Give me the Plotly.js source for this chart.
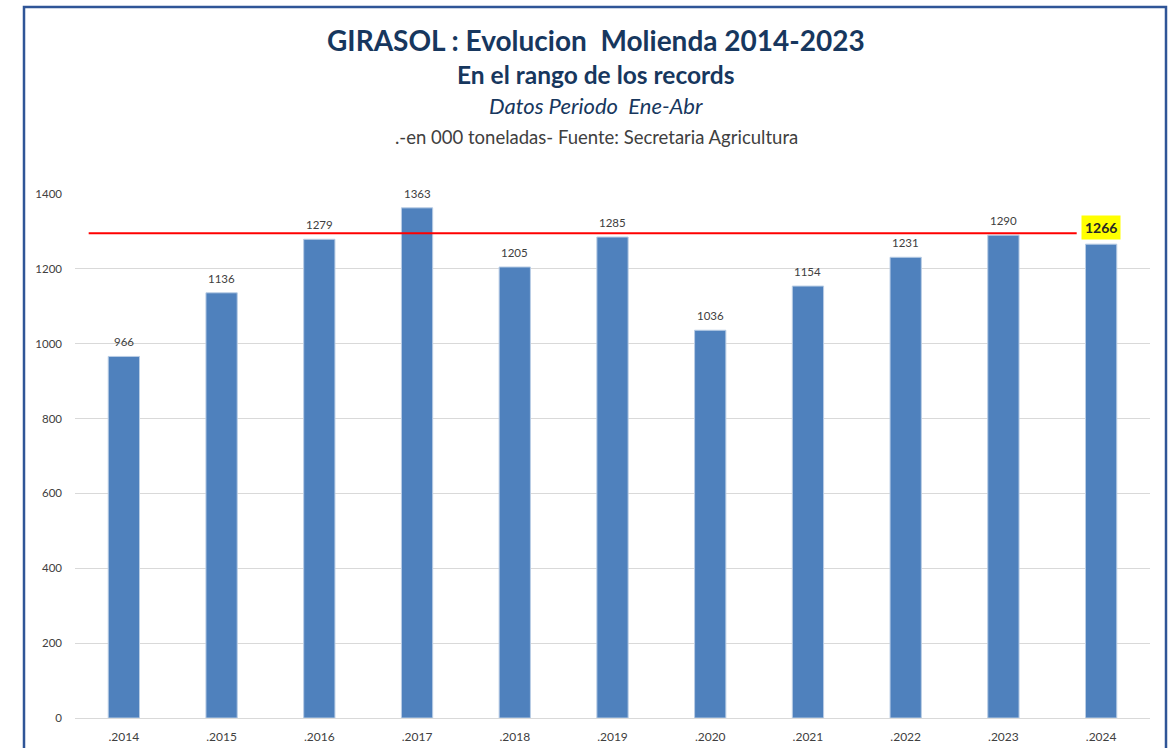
<!DOCTYPE html>
<html>
<head>
<meta charset="utf-8">
<script src="https://cdn.plot.ly/plotly-3.0.1.min.js"></script>
<style>html,body{margin:0;padding:0;background:#fff;}#chart{width:1168px;height:748px;}</style>
</head>
<body>
<div id="chart"></div>
<script>
const categories = [".2014", ".2015", ".2016", ".2017", ".2018", ".2019", ".2020", ".2021", ".2022", ".2023", ".2024"];
const values = [966, 1136, 1279, 1363, 1205, 1285, 1036, 1154, 1231, 1290, 1266];
const recordLevel = [1295];
const highlightIndex = [10];
const yTicks = [0, 200, 400, 600, 800, 1000, 1200, 1400];

const FONT = "Lato, 'Noto Sans', sans-serif";
const TXT = "#404040";
const NAVY = "#17375e";

const annotations = [];
values.forEach((v, i) => {
  const hl = highlightIndex.includes(i);
  annotations.push({
    x: i, y: v, xref: 'x', yref: 'y',
    text: hl ? '<b>' + v + '</b>' : String(v),
    showarrow: false, yanchor: 'bottom', yshift: hl ? 4 : 6,
    font: {family: FONT, size: hl ? 14 : 11.5, color: hl ? '#262626' : TXT},
    bgcolor: hl ? '#ffff00' : 'rgba(0,0,0,0)',
    borderpad: hl ? 3 : 1
  });
});

const titles = [
  {text: '<b>GIRASOL : Evolucion  Molienda 2014-2023</b>', y: 40, size: 28, color: NAVY},
  {text: '<b>En el rango de los records</b>', y: 74, size: 24.5, color: NAVY},
  {text: '<i>Datos Periodo  Ene-Abr</i>', y: 106, size: 22, color: NAVY},
  {text: '.-en 000 toneladas- Fuente: Secretaria Agricultura', y: 137, size: 18.5, color: TXT}
];
const plotTop = 194, plotBottom = 718;
titles.forEach(t => {
  annotations.push({
    xref: 'paper', yref: 'paper', x: (596 - 75) / 1075, y: (plotBottom - t.y) / (plotBottom - plotTop),
    xanchor: 'center', yanchor: 'middle', showarrow: false,
    text: t.text, font: {family: FONT, size: t.size, color: t.color}
  });
});

const data = [{
  type: 'bar', x: categories, y: values,
  marker: {color: '#4f81bd', line: {color: '#b9cde5', width: 1}},
  hoverinfo: 'x+y'
}];

const layout = {
  width: 1168, height: 748,
  margin: {l: 75, r: 18, t: 194, b: 30},
  paper_bgcolor: '#ffffff', plot_bgcolor: '#ffffff',
  showlegend: false,
  bargap: 0.68,
  font: {family: FONT, color: TXT},
  xaxis: {
    type: 'category', showgrid: false, zeroline: false, showline: false,
    ticks: '', tickfont: {family: FONT, size: 12, color: TXT}, ticklabelstandoff: 10
  },
  yaxis: {
    range: [0, 1400], tickvals: yTicks, showgrid: true, gridcolor: '#d9d9d9', gridwidth: 1,
    zeroline: true, zerolinecolor: '#d9d9d9', showline: false, ticks: '',
    tickfont: {family: FONT, size: 11.5, color: TXT}, ticklabelstandoff: 12
  },
  annotations: annotations,
  shapes: [
    {type: 'line', xref: 'x', yref: 'y', x0: -0.36, x1: 9.75, y0: recordLevel[0], y1: recordLevel[0],
     line: {color: '#ff0000', width: 2}},
    {type: 'rect', xref: 'paper', yref: 'paper',
     x0: (24 - 75) / 1075, x1: (1166 - 75) / 1075,
     y0: -0.2, y1: (plotBottom - 7) / (plotBottom - plotTop),
     line: {color: '#2f5597', width: 2.5}, fillcolor: 'rgba(0,0,0,0)', layer: 'above'}
  ]
};

Plotly.newPlot('chart', data, layout, {displayModeBar: false, staticPlot: true});
</script>
</body>
</html>
